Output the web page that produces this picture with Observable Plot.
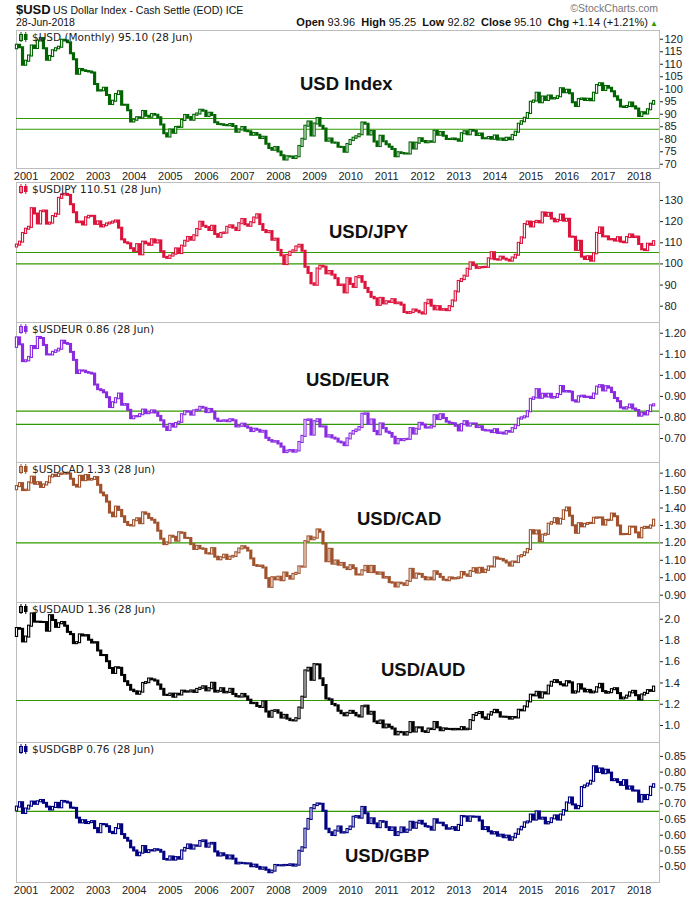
<!DOCTYPE html>
<html><head><meta charset="utf-8">
<script src="https://cdn.jsdelivr.net/npm/d3@7"></script>
<script src="https://cdn.jsdelivr.net/npm/@observablehq/plot@0.6"></script>
<style>
html,body{margin:0;padding:0;background:#fff;}
#root{position:relative;width:700px;height:900px;overflow:hidden;font-family:"Liberation Sans",Arial,sans-serif;}
#root svg.panel{position:absolute;left:0;}
#overlay{position:absolute;left:0;top:0;pointer-events:none;}
</style></head>
<body><div id="root"></div>
<script>
// Months: first entry (Sep 2000) is only the prior close used as the first open
const months = d3.utcMonth.range(new Date(Date.UTC(2000, 8, 1)), new Date(Date.UTC(2018, 6, 1)));
const xDomain = [new Date(Date.UTC(2000, 8, 26)), new Date(Date.UTC(2018, 6, 26))];
const yearTicks = d3.utcYear.range(new Date(Date.UTC(2001, 0, 1)), new Date(Date.UTC(2018, 1, 1)));

// Monthly closes, Sep 2000 .. Jun 2018
const usdIndex = [
116.2,117.6,116.6,109.6,
111.2,113.3,117.3,116.3,119.3,120.3,116.2,111.6,113.1,115.4,116.2,116.8,
119.6,119.3,118.6,114.2,111.8,106.0,107.9,107.4,107.1,106.9,106.5,101.9,
99.3,99.4,100.4,97.5,93.9,95.2,97.9,99.0,93.6,93.6,91.4,86.9,
87.6,88.6,88.5,91.1,89.2,88.8,89.9,89.6,88.6,85.7,82.2,80.9,
83.7,82.4,84.7,84.8,87.5,89.5,88.7,87.6,89.6,90.1,91.6,91.2,
89.1,90.4,89.5,86.6,85.9,85.8,85.5,85.4,85.9,85.1,82.8,83.7,
84.7,83.2,83.0,81.6,82.3,81.6,80.3,80.8,78.0,76.3,75.6,76.7,
74.9,73.4,71.7,73.0,72.9,72.3,73.0,77.1,80.0,85.2,86.9,81.3,
86.1,88.3,85.2,84.1,79.2,80.1,78.5,78.4,76.8,76.7,74.8,77.9,
79.5,80.4,81.0,81.8,86.5,86.0,81.7,83.1,78.9,77.1,81.2,79.0,
77.8,76.8,75.9,73.0,74.6,74.3,74.1,74.1,78.5,76.1,78.4,80.2,
79.1,78.6,79.0,78.8,83.2,81.6,82.7,81.2,79.9,79.9,80.1,79.8,
79.2,82.2,83.0,81.8,83.5,83.2,81.5,82.1,80.2,80.2,80.7,80.0,
81.3,79.7,80.1,79.5,80.4,79.8,81.5,82.8,86.0,87.0,88.4,90.3,
94.8,95.3,98.4,94.6,96.9,95.5,97.3,96.1,96.3,97.0,100.2,98.6,
99.6,98.2,94.6,93.1,95.9,96.1,95.5,96.0,95.4,98.4,101.5,102.2,
99.5,101.1,100.4,99.0,97.0,95.6,92.9,92.7,93.1,94.5,93.0,92.1,
89.1,90.6,90.1,91.8,94.0,95.1];

const usdJpy = [
108.0,108.9,110.3,114.4,
116.4,117.3,126.1,123.6,118.9,124.7,125.0,118.8,119.3,122.4,123.5,131.0,
132.6,132.9,132.4,128.0,124.2,119.5,119.8,118.4,121.8,122.5,122.5,118.7,
119.9,117.5,118.1,118.9,119.3,119.8,120.3,116.9,111.4,110.0,109.5,107.2,
105.9,109.1,104.3,110.3,109.5,108.8,111.4,109.9,110.9,105.8,103.1,102.6,
103.7,104.6,107.1,104.9,108.4,110.7,112.5,111.2,113.3,116.3,119.7,117.8,
117.2,115.8,117.8,113.9,112.6,114.4,114.6,117.3,118.0,116.9,115.8,119.0,
121.0,118.5,117.8,119.5,121.7,123.2,118.6,115.8,114.8,115.3,111.2,111.7,
106.4,103.8,99.7,104.0,105.5,106.2,108.0,108.8,106.0,98.4,95.5,90.6,
89.9,97.6,98.9,98.5,95.3,96.4,94.7,93.0,89.8,90.0,86.3,93.0,
90.3,88.9,93.5,94.0,91.3,88.4,86.5,84.2,83.5,80.4,83.7,81.1,
82.1,81.8,83.1,81.2,81.5,80.5,77.0,76.6,77.0,78.2,77.6,76.9,
76.3,81.2,82.8,80.0,78.3,79.8,78.1,78.4,77.9,79.8,82.5,86.8,
91.7,92.6,94.2,97.5,100.5,99.2,97.9,98.2,98.3,98.4,102.4,105.3,
102.0,101.8,103.2,102.3,101.8,101.3,102.8,104.1,109.7,112.3,118.6,119.8,
117.5,119.6,120.1,119.4,124.1,122.5,123.9,121.2,119.9,120.6,123.1,120.2,
121.1,112.7,112.6,106.4,110.7,103.2,102.1,103.4,101.3,104.8,114.4,117.0,
112.8,112.8,111.4,111.5,110.8,112.4,110.3,110.0,112.5,113.7,112.5,112.7,
109.2,106.7,106.3,109.3,108.8,110.5];

const usdEur = [
1.133,1.178,1.145,1.065,
1.069,1.085,1.137,1.127,1.180,1.175,1.142,1.097,1.097,1.109,1.116,1.124,
1.162,1.151,1.147,1.109,1.071,1.009,1.021,1.020,1.013,1.010,1.006,0.954,
0.932,0.927,0.917,0.894,0.847,0.870,0.889,0.911,0.858,0.861,0.834,0.794,
0.803,0.804,0.813,0.835,0.818,0.822,0.831,0.821,0.805,0.784,0.754,0.738,
0.767,0.754,0.771,0.777,0.813,0.827,0.825,0.811,0.831,0.834,0.848,0.844,
0.823,0.838,0.825,0.792,0.781,0.782,0.784,0.780,0.789,0.784,0.755,0.758,
0.768,0.756,0.749,0.733,0.744,0.739,0.730,0.734,0.701,0.690,0.683,0.685,
0.674,0.659,0.633,0.640,0.643,0.635,0.641,0.681,0.710,0.786,0.788,0.716,
0.780,0.789,0.755,0.755,0.707,0.713,0.702,0.697,0.683,0.679,0.666,0.698,
0.721,0.733,0.740,0.752,0.815,0.817,0.767,0.788,0.733,0.718,0.769,0.747,
0.730,0.724,0.706,0.675,0.695,0.690,0.695,0.696,0.747,0.721,0.744,0.772,
0.764,0.750,0.750,0.756,0.808,0.790,0.813,0.795,0.778,0.772,0.770,0.758,
0.736,0.766,0.780,0.759,0.769,0.769,0.752,0.756,0.739,0.736,0.736,0.728,
0.742,0.724,0.726,0.721,0.733,0.730,0.747,0.761,0.792,0.798,0.803,0.827,
0.886,0.893,0.932,0.891,0.910,0.897,0.910,0.892,0.895,0.909,0.947,0.921,
0.923,0.920,0.879,0.873,0.898,0.901,0.895,0.896,0.890,0.911,0.944,0.951,
0.926,0.946,0.939,0.918,0.890,0.875,0.845,0.840,0.846,0.859,0.840,0.833,
0.806,0.820,0.812,0.828,0.855,0.860];

const usdCad = [
1.505,1.523,1.540,1.500,
1.502,1.544,1.577,1.536,1.545,1.518,1.532,1.545,1.578,1.588,1.581,1.593,
1.595,1.599,1.595,1.565,1.530,1.520,1.582,1.557,1.586,1.560,1.564,1.575,
1.530,1.486,1.470,1.434,1.371,1.350,1.405,1.386,1.350,1.317,1.300,1.297,
1.327,1.338,1.310,1.372,1.364,1.340,1.330,1.313,1.267,1.221,1.190,1.200,
1.238,1.232,1.210,1.258,1.255,1.226,1.225,1.190,1.162,1.180,1.166,1.163,
1.138,1.136,1.167,1.118,1.103,1.115,1.129,1.105,1.118,1.122,1.143,1.165,
1.178,1.169,1.153,1.108,1.070,1.065,1.067,1.056,0.995,0.945,1.000,0.988,
1.003,0.983,1.027,1.007,0.992,1.019,1.025,1.062,1.061,1.207,1.234,1.218,
1.227,1.274,1.261,1.193,1.092,1.163,1.078,1.096,1.072,1.082,1.057,1.047,
1.069,1.052,1.016,1.016,1.040,1.065,1.030,1.065,1.029,1.020,1.027,0.998,
1.001,0.972,0.969,0.947,0.969,0.965,0.956,0.979,1.048,0.997,1.021,1.019,
1.002,0.988,0.998,0.988,1.034,1.019,1.002,0.986,0.983,0.999,0.993,0.995,
0.999,1.030,1.016,1.008,1.036,1.052,1.027,1.054,1.030,1.043,1.062,1.062,
1.114,1.107,1.105,1.096,1.085,1.067,1.090,1.087,1.120,1.127,1.143,1.162,
1.270,1.251,1.268,1.207,1.244,1.249,1.307,1.316,1.339,1.308,1.335,1.384,
1.400,1.353,1.298,1.255,1.310,1.292,1.306,1.311,1.312,1.341,1.343,1.343,
1.302,1.328,1.330,1.365,1.350,1.297,1.247,1.248,1.248,1.290,1.290,1.257,
1.229,1.283,1.289,1.284,1.297,1.330];

const usdAud = [
1.838,1.912,1.905,1.786,
1.832,1.934,2.049,1.972,1.972,1.969,1.969,1.887,2.033,1.988,1.923,1.957,
1.969,1.934,1.876,1.855,1.770,1.779,1.852,1.842,1.845,1.802,1.776,1.779,
1.701,1.658,1.658,1.600,1.536,1.490,1.543,1.538,1.471,1.412,1.377,1.332,
1.318,1.294,1.314,1.395,1.403,1.437,1.429,1.418,1.381,1.340,1.284,1.282,
1.295,1.266,1.294,1.287,1.323,1.314,1.316,1.325,1.311,1.339,1.350,1.364,
1.326,1.346,1.397,1.314,1.321,1.346,1.307,1.311,1.340,1.292,1.271,1.267,
1.292,1.269,1.238,1.206,1.208,1.179,1.170,1.222,1.127,1.078,1.133,1.139,
1.116,1.070,1.095,1.060,1.046,1.043,1.064,1.164,1.266,1.513,1.538,1.425,
1.572,1.570,1.439,1.376,1.250,1.241,1.198,1.185,1.134,1.111,1.091,1.114,
1.133,1.114,1.091,1.080,1.176,1.182,1.106,1.124,1.034,1.019,1.042,0.978,
1.004,0.983,0.967,0.912,0.935,0.932,0.910,0.933,1.027,0.939,0.977,0.978,
0.942,0.935,0.966,0.962,1.028,0.978,0.951,0.968,0.963,0.963,0.959,0.963,
0.960,0.980,0.960,0.965,1.046,1.094,1.112,1.122,1.072,1.058,1.098,1.121,
1.142,1.120,1.079,1.078,1.076,1.060,1.075,1.071,1.143,1.138,1.175,1.222,
1.285,1.279,1.312,1.259,1.307,1.297,1.370,1.406,1.422,1.403,1.383,1.372,
1.412,1.401,1.305,1.316,1.383,1.342,1.316,1.330,1.307,1.314,1.355,1.387,
1.319,1.304,1.309,1.337,1.346,1.300,1.250,1.258,1.276,1.307,1.321,1.280,
1.241,1.287,1.302,1.328,1.321,1.361];

const usdGbp = [
0.677,0.689,0.703,0.669,
0.683,0.692,0.705,0.698,0.706,0.710,0.701,0.689,0.680,0.688,0.701,0.687,
0.707,0.705,0.702,0.686,0.685,0.654,0.639,0.646,0.637,0.640,0.643,0.621,
0.608,0.634,0.633,0.627,0.609,0.605,0.621,0.633,0.602,0.590,0.581,0.560,
0.550,0.535,0.543,0.564,0.545,0.551,0.550,0.554,0.552,0.546,0.523,0.521,
0.531,0.521,0.529,0.524,0.550,0.558,0.569,0.556,0.566,0.565,0.580,0.582,
0.562,0.572,0.574,0.547,0.534,0.541,0.535,0.525,0.534,0.524,0.509,0.511,
0.510,0.509,0.509,0.500,0.505,0.498,0.492,0.496,0.489,0.481,0.486,0.504,
0.503,0.503,0.504,0.504,0.506,0.502,0.505,0.549,0.560,0.619,0.650,0.684,
0.694,0.699,0.698,0.676,0.619,0.608,0.599,0.613,0.626,0.607,0.608,0.618,
0.626,0.657,0.659,0.654,0.688,0.668,0.637,0.652,0.636,0.624,0.643,0.641,
0.624,0.615,0.623,0.599,0.608,0.623,0.609,0.616,0.641,0.622,0.638,0.644,
0.635,0.627,0.625,0.616,0.649,0.638,0.638,0.630,0.619,0.620,0.624,0.615,
0.631,0.659,0.658,0.644,0.658,0.657,0.657,0.645,0.618,0.624,0.611,0.604,
0.608,0.597,0.600,0.592,0.597,0.584,0.592,0.603,0.617,0.625,0.639,0.642,
0.664,0.648,0.674,0.651,0.654,0.636,0.640,0.652,0.661,0.648,0.664,0.678,
0.702,0.718,0.696,0.684,0.691,0.751,0.756,0.762,0.771,0.817,0.799,0.810,
0.795,0.806,0.797,0.773,0.776,0.767,0.758,0.773,0.746,0.753,0.740,0.740,
0.705,0.726,0.713,0.726,0.752,0.760];

// Y tick values
const usdTicks = [70, 75, 80, 85, 90, 95, 100, 105, 110, 115, 120];
const jpyTicks = [80, 90, 100, 110, 120, 130];
const eurTicks = [0.70, 0.80, 0.90, 1.00, 1.10, 1.20];
const cadTicks = [0.90, 1.00, 1.10, 1.20, 1.30, 1.40, 1.50, 1.60];
const audTicks = [1.0, 1.2, 1.4, 1.6, 1.8, 2.0];
const gbpTicks = [0.50, 0.55, 0.60, 0.65, 0.70, 0.75, 0.80, 0.85];

// Horizontal support/resistance lines
const usdLines = [88.3, 84.0];
const jpyLines = [105.4, 100];
const eurLines = [0.830, 0.767];
const cadLines = [1.20];
const audLines = [1.235];
const gbpLines = [0.6755];

// Series labels
const seriesNames = ["$USD (Monthly)", "$USDJPY", "$USDEUR", "$USDCAD", "$USDAUD", "$USDGBP"];
const lastValues = ["95.10", "110.51", "0.86", "1.33", "1.36", "0.76"];
const bigLabels = ["USD Index", "USD/JPY", "USD/EUR", "USD/CAD", "USD/AUD", "USD/GBP"];
const colors = ["#006400", "#dc143c", "#8a2be2", "#a0522d", "#000000", "#000080"];

const panels = [
  {values: usdIndex, ticks: usdTicks, lines: usdLines, fmt: d3.format("d"), domain: [68.3, 123.5], top: 28, height: 154, mt: 2, mb: 14, xAxis: true, bx: 300, by: 89.5},
  {values: usdJpy, ticks: jpyTicks, lines: jpyLines, fmt: d3.format("d"), domain: [72.3, 138.5], top: 182, height: 140, mt: 0, mb: 0, xAxis: false, bx: 329, by: 238},
  {values: usdEur, ticks: eurTicks, lines: eurLines, fmt: d3.format(".2f"), domain: [0.586, 1.251], top: 322, height: 140, mt: 0, mb: 0, xAxis: false, bx: 306, by: 386},
  {values: usdCad, ticks: cadTicks, lines: cadLines, fmt: d3.format(".2f"), domain: [0.858, 1.661], top: 462, height: 140, mt: 0, mb: 0, xAxis: false, bx: 357, by: 525},
  {values: usdAud, ticks: audTicks, lines: audLines, fmt: d3.format(".1f"), domain: [0.840, 2.157], top: 602, height: 140, mt: 0, mb: 0, xAxis: false, bx: 381, by: 676},
  {values: usdGbp, ticks: gbpTicks, lines: gbpLines, fmt: d3.format(".2f"), domain: [0.450, 0.894], top: 742, height: 158, mt: 0, mb: 18, xAxis: true, bx: 345, by: 862}
];

const root = document.getElementById("root");
const DAY = 864e5;

panels.forEach((p, k) => {
  if (p.values.length !== months.length) console.warn("length mismatch", k, p.values.length, months.length);
  const candles = [];
  for (let i = 1; i < months.length; i++) {
    candles.push({date: months[i], open: p.values[i - 1], close: p.values[i], up: p.values[i] >= p.values[i - 1]});
  }
  const color = colors[k];
  const chart = Plot.plot({
    width: 700,
    height: p.height,
    marginLeft: 16,
    marginRight: 41,
    marginTop: p.mt,
    marginBottom: p.mb,
    style: {fontFamily: "'Liberation Sans', Arial, sans-serif", fontSize: "11px", color: "#222", background: "transparent", overflow: "visible"},
    x: {type: "utc", domain: xDomain, axis: p.xAxis ? "bottom" : null, ticks: yearTicks, tickFormat: d3.utcFormat("%Y"), tickSize: 0, tickPadding: 4, label: null},
    y: {domain: p.domain, axis: "right", ticks: p.ticks, tickFormat: p.fmt, tickSize: 3, tickPadding: 2, label: null},
    marks: [
      Plot.frame({stroke: "#bdbdbd"}),
      Plot.ruleY(p.lines, {stroke: "#339900", strokeWidth: 1.2}),
      Plot.rect(candles.filter(d => !d.up), {
        x1: d => new Date(+d.date - 16 * DAY), x2: d => new Date(+d.date + 16 * DAY),
        y1: "open", y2: "close", fill: color, insetTop: -1, insetBottom: -1
      }),
      Plot.rect(candles.filter(d => d.up), {
        x1: d => new Date(+d.date - 11 * DAY), x2: d => new Date(+d.date + 11 * DAY),
        y1: "open", y2: "close", fill: "white", stroke: color, strokeWidth: 1.1, insetTop: -0.5, insetBottom: -0.5
      })
    ]
  });
  chart.classList.add("panel");
  chart.style.top = p.top + "px";
  root.appendChild(chart);
});

// Overlay text (header, series labels, big labels)
const ov = d3.select(root).append("svg").attr("id", "overlay").attr("width", 700).attr("height", 900)
  .style("font-family", "'Liberation Sans', Arial, sans-serif");

ov.append("text").attr("x", 16).attr("y", 14).attr("font-size", 13).attr("font-weight", "bold").attr("fill", "#111").text("$USD");
ov.append("text").attr("x", 53).attr("y", 14).attr("font-size", 10.5).attr("fill", "#111").text("US Dollar Index - Cash Settle (EOD) ICE");
ov.append("text").attr("x", 16).attr("y", 26).attr("font-size", 10.5).attr("fill", "#111").text("28-Jun-2018");
ov.append("text").attr("x", 658).attr("y", 12).attr("font-size", 10.5).attr("fill", "#777").attr("text-anchor", "end").text("\u00A9StockCharts.com");

const quote = ov.append("text").attr("x", 648).attr("y", 26).attr("font-size", 11).attr("fill", "#111").attr("text-anchor", "end");
[["Open", " 93.96  "], ["High", " 95.25  "], ["Low", " 92.82  "], ["Close", " 95.10  "], ["Chg", " +1.14 (+1.21%)"]].forEach(([k, v]) => {
  quote.append("tspan").attr("font-weight", "bold").text(k);
  quote.append("tspan").attr("xml:space", "preserve").style("white-space", "pre").text(v);
});
ov.append("text").attr("x", 650).attr("y", 26).attr("font-size", 8).attr("fill", "#339900").text("\u25B2");

const frameTops = [30, 182, 322, 462, 602, 742];
panels.forEach((p, k) => {
  const t = frameTops[k];
  const g = ov.append("g");
  // small candle icon
  g.append("rect").attr("x", 19.5).attr("y", t + 4.5).attr("width", 3).attr("height", 6).attr("fill", "white").attr("stroke", colors[k]);
  g.append("line").attr("x1", 21).attr("x2", 21).attr("y1", t + 2).attr("y2", t + 12).attr("stroke", colors[k]);
  g.append("rect").attr("x", 24).attr("y", t + 4).attr("width", 3.5).attr("height", 6).attr("fill", colors[k]);
  g.append("line").attr("x1", 25.75).attr("x2", 25.75).attr("y1", t + 2).attr("y2", t + 12).attr("stroke", colors[k]);
  g.append("text").attr("x", 32).attr("y", t + 11).attr("fill", "#222")
    .style("font-family", "'DejaVu Sans', Verdana, sans-serif").style("font-size", "10.5px")
    .text(`${seriesNames[k]} ${lastValues[k]} (28 Jun)`);
  ov.append("text").attr("x", p.bx).attr("y", p.by).attr("font-size", 18.5).attr("font-weight", "bold").attr("fill", "#111").text(bigLabels[k]);
});
</script>
</body></html>
